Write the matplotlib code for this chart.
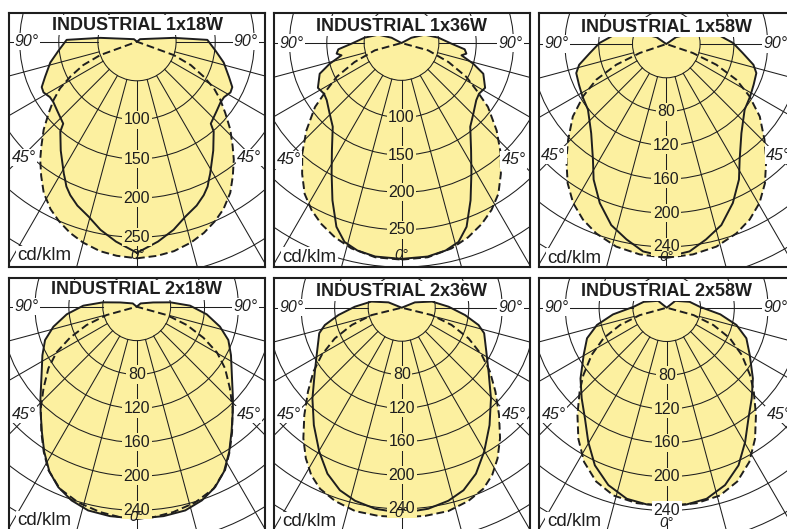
import numpy as np
import matplotlib.pyplot as plt
from matplotlib.patches import Circle

plt.rcParams['font.family'] = ['Liberation Sans', 'DejaVu Sans']

FIG_W, FIG_H = 787, 529
PW, PH = 256, 254            # size of one diagram box, px
YELLOW = '#fcf0a0'
INK = '#1e1e1e'

titles = ['INDUSTRIAL 1x18W', 'INDUSTRIAL 1x36W', 'INDUSTRIAL 1x58W',
          'INDUSTRIAL 2x18W', 'INDUSTRIAL 2x36W', 'INDUSTRIAL 2x58W']

# grid rings (cd/klm) and the ones that carry a value label
rings_50 = [50, 100, 150, 200, 250, 300, 350, 400]
rings_40 = [40, 80, 120, 160, 200, 240, 280, 320, 360, 400]
marks_50 = [100, 150, 200, 250]
marks_40 = [80, 120, 160, 200, 240]
spokes = [-90, -75, -60, -45, -30, -15, 0, 15, 30, 45, 60, 75, 90]

# intensity (cd/klm) against angle from nadir (deg), symmetric curves
# solid = transverse plane, dashed = longitudinal plane
s118_ang = [0, 6, 11, 15.5, 20, 23.5, 26, 27.5, 29, 35, 40.5, 42, 49, 54, 57.5,
            61.5, 64.5, 69, 76.5, 83.5, 91.5, 96, 105, 130, 180]
s118_cd = [270, 257, 245, 232, 223, 214, 206, 199, 193, 170, 151, 141, 135, 132, 132,
           136, 135, 126, 114, 101, 90, 47, 14, 5, 0]
d118_ang = [0, 5.4, 10, 15, 19.3, 23.6, 27.3, 31.7, 35.5, 39.4, 42.5, 46.7, 51.1,
            55.1, 58.8, 62.4, 66.5, 70, 70.5]
d118_cd = [277, 275, 272, 266, 259, 250, 241, 227, 211, 195, 181, 164, 145,
           130, 115, 96, 75, 50, 0]

s136_ang = [0, 7, 12, 16, 19.5, 23.7, 28.2, 33, 39.4, 45.4, 52.6, 56.8, 61.8, 69.4,
            73.9, 78.4, 80.7, 84.3, 89.2, 98.2, 109.7, 118, 180]
s136_cd = [289, 288, 284, 277, 261, 230, 198, 171, 145, 135, 126, 124, 127, 117,
           100, 82, 88, 85, 67, 50, 33, 15, 0]
d136_ang = [0, 7, 13.7, 18.9, 23.9, 28.3, 32.7, 37.2, 41.9, 47.4, 53.5, 57.7, 62.4,
            67.9, 74.6, 76]
d136_cd = [290, 289, 283, 275, 265, 254, 240, 220, 199, 173, 144, 119, 98,
           68, 37, 0]

s158_ang = [0, 6.4, 11.5, 16.9, 22.7, 28.2, 32.4, 40.1, 50, 58.1, 65.1, 72.1, 76.6,
            83.3, 90.9, 98.9, 107.2, 112.4, 125, 180]
s158_cd = [252, 247, 236, 224, 204, 182, 162, 138, 121, 117, 114, 112, 106,
           91, 79, 64, 45, 34, 14, 0]
d158_ang = [0, 7.2, 13.9, 20.3, 25.4, 30.4, 35.3, 40.8, 45.8, 52.2, 57.9, 63, 67.5,
            71.3, 73]
d158_cd = [253, 251, 247, 239, 230, 218, 202, 181, 162, 140, 116, 93, 64, 33, 0]

s218_ang = [0, 7.3, 13.4, 18.6, 23.5, 27.9, 32.5, 37.2, 42.4, 46.3, 54.4, 62.8, 70,
            76.5, 83.8, 91.1, 97.4, 104.5, 130, 180]
s218_cd = [250, 249, 247, 241, 232, 220, 203, 185, 168, 157, 138, 125, 115,
           101, 83, 63, 40, 20, 6, 0]
d218_ang = [0, 4.5, 10.1, 16.6, 22.9, 28.4, 32.7, 37.2, 43.3, 48.8, 55.1, 60.3, 65,
            69.9, 74.5, 76.5]
d218_cd = [250, 249, 246, 241, 233, 219, 203, 186, 165, 146, 127, 109, 87,
           63, 37, 0]

s236_ang = [0, 7.5, 13.6, 18.7, 24.1, 29.8, 36.8, 44.5, 53.5, 62.4, 72.8, 77.3, 83.4,
            91.2, 101.4, 112, 180]
s236_cd = [245, 242, 237, 230, 217, 198, 175, 152, 129, 114, 103, 94, 76,
           56, 37, 17, 0]
d236_ang = [0, 6.4, 12.9, 19, 24.3, 28.4, 32.5, 37, 42.2, 48.2, 54.1, 59.4, 65.3,
            70.9, 76.2, 78]
d236_cd = [250, 250, 249, 244, 237, 227, 213, 195, 173, 150, 130, 111, 88,
           63, 37, 0]

s258_ang = [0, 5.8, 11.8, 18.2, 24.5, 30.3, 36.4, 43.2, 50.6, 60.4, 69, 76.1, 82.9,
            91.7, 104.4, 128.6, 180]
s258_cd = [234, 234, 231, 221, 205, 184, 163, 147, 132, 113, 101, 85, 64,
           39, 28, 13, 0]
d258_ang = [0, 8.7, 15.8, 22.1, 28.2, 34, 39.8, 46.1, 51, 57.8, 64.2, 69.6, 74.6, 76]
d258_cd = [235, 234, 231, 222, 207, 187, 165, 143, 127, 105, 83, 59, 33, 0]

solid = [(s118_ang, s118_cd), (s136_ang, s136_cd), (s158_ang, s158_cd),
         (s218_ang, s218_cd), (s236_ang, s236_cd), (s258_ang, s258_cd)]
dashed = [(d118_ang, d118_cd), (d136_ang, d136_cd), (d158_ang, d158_cd),
          (d218_ang, d218_cd), (d236_ang, d236_cd), (d258_ang, d258_cd)]
rings = [rings_50, rings_50, rings_40, rings_40, rings_40, rings_40]
marks = [marks_50, marks_50, marks_40, marks_40, marks_40, marks_40]

# layout in pixels: box corner, polar centre, px per cd/klm
boxes = [(9, 13), (274, 13), (539, 13), (9, 278), (274, 278), (539, 278)]
centres = [(137, 41.7), (401.5, 43), (666.3, 44),
           (136.7, 306.7), (401.7, 307.7), (666.7, 307.7)]
scales = [0.782, 0.747, 0.845, 0.848, 0.838, 0.845]
y45 = [-116, -117, -111, -108, -107, -107]
y0deg = [-213, -212, -213, -210, -205, -215]


def outline(ang, cd):
    a = np.radians(ang)
    r = np.asarray(cd, float)
    x = r * np.sin(a)
    y = -r * np.cos(a)
    return np.concatenate([x, -x[::-1]]), np.concatenate([y, y[::-1]])


fig = plt.figure(figsize=(FIG_W / 100, FIG_H / 100), dpi=100)
fig.patch.set_facecolor('white')

for i in range(6):
    x0, y0 = boxes[i]
    cx, cy = centres[i]
    k = scales[i]
    ax = fig.add_axes([x0 / FIG_W, 1 - (y0 + PH) / FIG_H, PW / FIG_W, PH / FIG_H])

    sx, sy = outline(*solid[i])
    dx, dy = outline(*dashed[i])
    ax.fill(sx, sy, color=YELLOW, lw=0, zorder=1)
    ax.fill(dx, dy, color=YELLOW, lw=0, zorder=1)

    for r in rings[i]:
        ax.add_patch(Circle((0, 0), r, fill=False, ec=INK, lw=0.75, zorder=2))
    r0 = rings[i][0]
    for g in spokes:
        a = np.radians(g)
        ax.plot([r0 * np.sin(a), 900 * np.sin(a)], [-r0 * np.cos(a), -900 * np.cos(a)],
                color=INK, lw=0.75, zorder=2)

    ax.plot(sx, sy, color=INK, lw=1.4, zorder=3)
    ax.plot(dx, dy, color=INK, lw=1.4, ls=(0, (4, 2)), zorder=3)

    i0 = max(solid[i][1][0], dashed[i][1][0])
    for v in marks[i]:
        bg = YELLOW if (i0 - v) * k > 6 else 'white'
        ax.text(0, -v, str(v), ha='center', va='center', fontsize=11.5, color=INK,
                bbox=dict(boxstyle='square,pad=0.1', fc=bg, ec='none'), zorder=4)

    white = dict(boxstyle='square,pad=0.08', fc='white', ec='none')
    ax.text(0, 16.7 / k, titles[i], ha='center', va='center', fontsize=13,
            fontweight='bold', color=INK, bbox=white, zorder=5)
    ax.text(-110 / k, 0, '90°', ha='center', va='center', fontsize=11.5,
            style='italic', color=INK, bbox=white, zorder=5)
    ax.text(109 / k, 0, '90°', ha='center', va='center', fontsize=11.5,
            style='italic', color=INK, bbox=white, zorder=5)
    ax.text(-113 / k, y45[i] / k, '45°', ha='center', va='center', fontsize=11.5,
            style='italic', color=INK, bbox=white, zorder=5)
    ax.text(112 / k, y45[i] / k, '45°', ha='center', va='center', fontsize=11.5,
            style='italic', color=INK, bbox=white, zorder=5)
    ax.text((x0 + 8 - cx) / k, -214 / k, 'cd/klm', ha='left', va='center',
            fontsize=13.5, color=INK, bbox=white, zorder=5)
    ax.text(0, y0deg[i] / k, '0°', ha='center', va='center', fontsize=10.5,
            style='italic', color=INK, zorder=5)

    ax.set_xlim((x0 - cx) / k, (x0 + PW - cx) / k)
    ax.set_ylim((cy - y0 - PH) / k, (cy - y0) / k)
    ax.set_xticks([])
    ax.set_yticks([])
    for sp in ax.spines.values():
        sp.set_linewidth(1.5)
        sp.set_color(INK)
        sp.set_zorder(6)

fig.savefig('out.png', dpi=100)
